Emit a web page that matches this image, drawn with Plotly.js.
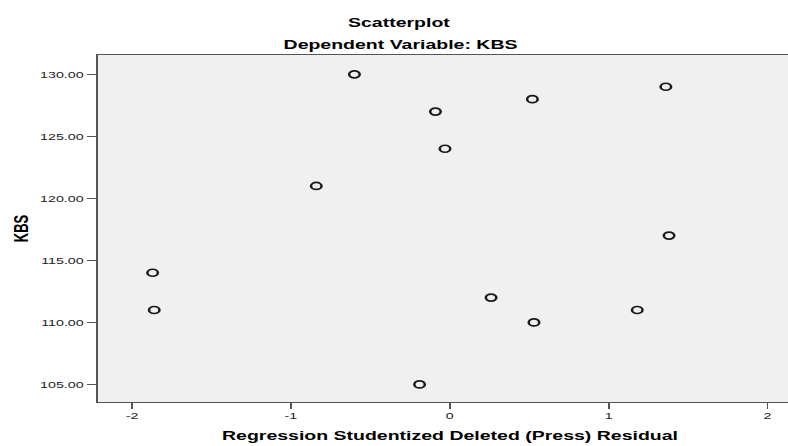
<!DOCTYPE html>
<html>
<head>
<meta charset="utf-8">
<script src="https://cdn.plot.ly/plotly-3.0.1.min.js"></script>
<style>
  html, body { margin: 0; padding: 0; overflow: hidden; background: #ffffff; }
  #wrap { width: 788px; height: 446px; overflow: hidden; }
  #chart { width: 535px; height: 446px; transform: scaleX(1.5); transform-origin: 0 0; }
</style>
</head>
<body>
<div id="wrap"><div id="chart"></div></div>
<script>
// Data
const residual = [-0.60, -0.09, -0.03, -0.84, 1.36, 0.52, 1.38, -1.87, -1.86, -0.19, 0.26, 0.53, 1.18];
const kbs      = [130, 127, 124, 121, 129, 128, 117, 114, 111, 105, 112, 110, 111];

const xTicks = [-2, -1, 0, 1, 2];
const yTicks = [105, 110, 115, 120, 125, 130];

const titleText = 'Scatterplot';
const subtitleText = 'Dependent Variable: KBS';
const xTitleText = 'Regression Studentized Deleted (Press) Residual';
const yTitleText = 'KBS';

const fontFam = '"Liberation Sans", Arial, sans-serif';

const trace = {
  type: 'scatter',
  mode: 'markers',
  x: residual,
  y: kbs,
  marker: {
    symbol: 'circle-open',
    size: 7,
    color: '#1a1a1a',
    line: { width: 1.7, color: '#1a1a1a' }
  },
  hoverinfo: 'none',
  showlegend: false
};

const layout = {
  width: 535,
  height: 446,
  margin: { l: 65, r: 0, t: 55, b: 44, pad: 0 },
  paper_bgcolor: '#ffffff',
  plot_bgcolor: '#f0f0f0',
  font: { family: fontFam, color: '#000000' },
  xaxis: {
    range: [-2.217, 2.220],
    tickvals: xTicks,
    ticktext: xTicks.map(String),
    ticks: 'outside',
    ticklen: 6,
    tickwidth: 1.2,
    tickcolor: '#555555',
    ticklabelstandoff: -2,
    showgrid: false,
    zeroline: false,
    showline: true,
    mirror: true,
    linecolor: '#555555',
    linewidth: 1.3,
    tickfont: { size: 9.5, family: fontFam, color: '#222222' },
    title: { text: '<b>' + xTitleText + '</b>', font: { size: 13, family: fontFam, color: '#000000' }, standoff: 11 },
    fixedrange: true
  },
  yaxis: {
    range: [103.58, 131.56],
    tickvals: yTicks,
    tickformat: '.2f',
    ticks: 'outside',
    ticklen: 6,
    tickwidth: 1,
    tickcolor: '#555555',
    showgrid: false,
    zeroline: false,
    showline: true,
    linecolor: '#555555',
    linewidth: 1.3,
    tickfont: { size: 9.5, family: fontFam, color: '#222222' },
    title: { text: '<b>' + yTitleText + '</b>', font: { size: 13, family: fontFam, color: '#000000' }, standoff: 4 },
    fixedrange: true
  },
  annotations: [
    {
      text: '<b>' + titleText + '</b>', xref: 'paper', yref: 'paper',
      x: 0.4291, y: 1.095, xanchor: 'center', yanchor: 'middle', showarrow: false,
      font: { size: 13, family: fontFam, color: '#000000' }
    },
    {
      text: '<b>' + subtitleText + '</b>', xref: 'paper', yref: 'paper',
      x: 0.4291, y: 1.0317, xanchor: 'center', yanchor: 'middle', showarrow: false,
      font: { size: 13, family: fontFam, color: '#000000' }
    }
  ]
};

Plotly.newPlot('chart', [trace], layout, { displayModeBar: false, staticPlot: true });
</script>
</body>
</html>
